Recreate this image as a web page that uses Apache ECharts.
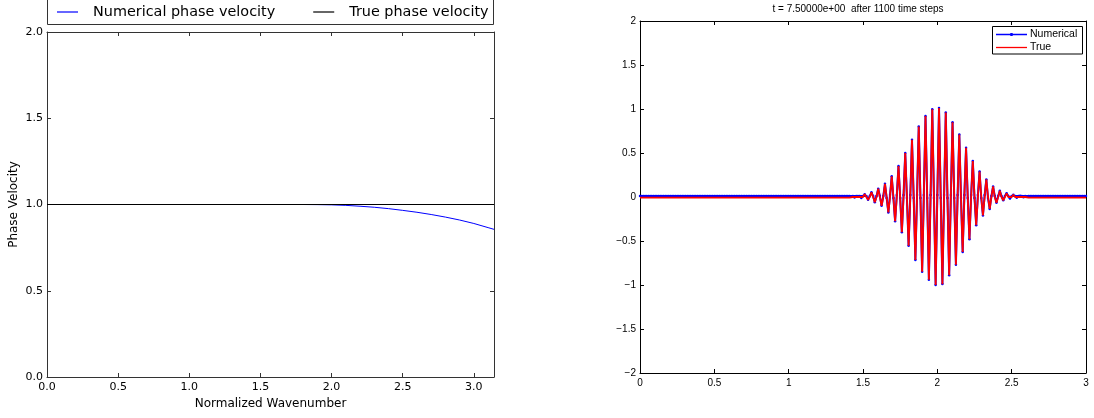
<!DOCTYPE html>
<html><head><meta charset="utf-8">
<script src="https://cdn.jsdelivr.net/npm/echarts@6/dist/echarts.min.js"></script>
<style>html,body{margin:0;padding:0;background:#fff}#c{width:1094px;height:418px}</style>
</head><body><div id="c"></div>
<script>
// ---- Left panel: phase velocity ----
const phaseK    = [0, 0.5, 1.0, 1.5, 1.8, 1.9, 2.0, 2.1, 2.2, 2.3, 2.4, 2.5, 2.6, 2.7, 2.8, 2.9, 3.0, 3.1, Math.PI];
const phaseNum  = [1, 1, 1, 1, 1.0, 0.9993, 0.998, 0.995, 0.99, 0.984, 0.976, 0.966, 0.955, 0.942, 0.927, 0.91, 0.89, 0.866, 0.856];
const trueK     = [0, Math.PI];
const trueVel   = [1, 1];

// ---- Right panel: wave packet on grid x_i = i*3/264 ----
const gridIntervals = 264;
const xMax = 3;
const packetStart = 125;       // grid index of first packet value
const numTail = 0.01;          // baseline of numerical solution outside packet
const trueTail = -0.008;       // baseline of true solution outside packet
const truePacket = [
  0.005, 0, -0.005, 0, 0.012, 0, -0.012, 0,
  0.03, 0, -0.03, 0, 0.053, 0, -0.06, 0,
  0.094, 0, -0.10, 0, 0.15, 0, -0.175, 0,
  0.235, 0, -0.275, 0, 0.352, 0, -0.40, 0,
  0.50, 0, -0.555, 0, 0.65, 0, -0.715, 0,
  0.80, 0, -0.85, 0, 0.92, 0, -0.94, 0,
  0.997, 0, -1.0, 0, 1.01, 0, -0.99, 0,
  0.96, 0, -0.89, 0, 0.85, 0, -0.77, 0,
  0.71, 0, -0.625, 0, 0.56, 0, -0.48, 0,
  0.41, 0, -0.32, 0, 0.29, 0, -0.21, 0,
  0.20, 0, -0.135, 0, 0.12, 0, -0.065, 0,
  0.07, 0, -0.037, 0, 0.042, 0, -0.018, 0,
  0.025, 0, -0.008, 0, 0.015, 0, -0.004, 0,
  0.008
];
const numPacket = [
  0.005, 0.01, -0.005, 0.01, 0.012, 0.01, -0.012, 0.01,
  0.03, 0.01, -0.03, 0.01, 0.053, 0.01, -0.06, 0.01,
  0.094, 0.01, -0.10, 0.01, 0.15, -0.012, -0.175, 0.022,
  0.235, -0.012, -0.275, 0.022, 0.352, -0.012, -0.40, 0.022,
  0.50, -0.012, -0.555, 0.022, 0.65, -0.012, -0.715, 0.022,
  0.80, -0.012, -0.85, 0.022, 0.92, -0.012, -0.94, 0.022,
  0.997, -0.012, -1.0, 0.022, 1.01, -0.012, -0.99, 0.022,
  0.96, -0.012, -0.89, 0.022, 0.85, -0.012, -0.77, 0.022,
  0.71, -0.012, -0.625, 0.022, 0.56, -0.012, -0.48, 0.022,
  0.41, -0.012, -0.32, 0.022, 0.29, -0.012, -0.21, 0.022,
  0.20, -0.012, -0.135, 0.01, 0.12, 0.01, -0.065, 0.01,
  0.07, 0.01, -0.037, 0.01, 0.042, 0.01, -0.018, 0.01,
  0.025, 0.01, -0.008, 0.01, 0.015, 0.01, -0.004, 0.01,
  0.008
];
const titleText = 't = 7.50000e+00  after 1100 time steps';

function buildSeries(packet, tail) {
  const out = [];
  for (let i = 0; i <= gridIntervals; i++) {
    const k = i - packetStart;
    const v = (k >= 0 && k < packet.length) ? packet[k] : tail;
    out.push([i * xMax / gridIntervals, v]);
  }
  return out;
}
const zip = (a, b) => a.map((v, i) => [v, b[i]]);

const L = '#333';
const R = '#000';
const dj = 'DejaVu Sans';
const lib = 'Liberation Sans';

const lineIconL = 'path://M0,0H21V1.2H0Z';
const lineIconR = 'path://M0,0H31V1.3H0Z';
const dotIconR = 'path://M0,1H31V2.3H0Z M14.3,0.2H16.7V3.1H14.3Z';

function frameAxis(grid, pos, min, max, color, extra) {
  return Object.assign({
    gridIndex: grid, type: 'value', position: pos, min: min, max: max, interval: 0.5,
    axisLine: { show: true, onZero: false, lineStyle: { color: color, width: 1 } },
    axisTick: { show: true, inside: true, length: 4, lineStyle: { color: color, width: 1 } },
    axisLabel: { show: false },
    splitLine: { show: false }
  }, extra || {});
}

const chart = echarts.init(document.getElementById('c'), null, { renderer: 'canvas' });
chart.setOption({
  animation: false,
  backgroundColor: '#fff',
  grid: [
    { left: 47, top: 32, width: 447, height: 345 },
    { left: 640, top: 21, width: 446, height: 352 }
  ],
  xAxis: [
    frameAxis(0, 'bottom', 0, Math.PI, L, {
      axisLabel: { show: true, fontFamily: dj, fontSize: 11, color: '#000', margin: 5,
        showMaxLabel: false, formatter: v => v.toFixed(1) },
      name: 'Normalized Wavenumber', nameLocation: 'middle', nameGap: 21,
      nameTextStyle: { fontFamily: dj, fontSize: 12, color: '#000' }
    }),
    frameAxis(0, 'top', 0, Math.PI, L),
    frameAxis(1, 'bottom', 0, xMax, R, {
      axisLabel: { show: true, fontFamily: lib, fontSize: 10, color: '#000', margin: 5,
        formatter: v => String(v) }
    }),
    frameAxis(1, 'top', 0, xMax, R)
  ],
  yAxis: [
    frameAxis(0, 'left', 0, 2, L, {
      axisLabel: { show: true, fontFamily: dj, fontSize: 11, color: '#000', margin: 4,
        formatter: v => v.toFixed(1) },
      name: 'Phase Velocity', nameLocation: 'middle', nameGap: 27, nameRotate: 90,
      nameTextStyle: { fontFamily: dj, fontSize: 12, color: '#000' }
    }),
    frameAxis(0, 'right', 0, 2, L),
    frameAxis(1, 'left', -2, 2, R, {
      axisLabel: { show: true, fontFamily: lib, fontSize: 10, color: '#000', margin: 4,
        formatter: v => (v < 0 ? '\u2212' + String(-v) : String(v)) }
    }),
    frameAxis(1, 'right', -2, 2, R)
  ],
  legend: [
    {
      data: [
        { name: 'Numerical phase velocity', icon: lineIconL },
        { name: 'True phase velocity', icon: lineIconL }
      ],
      left: 57, top: 5, orient: 'horizontal', padding: 0,
      itemWidth: 21, itemHeight: 14, itemGap: 38, symbolKeepAspect: true,
      textStyle: { fontFamily: dj, fontSize: 14.4, color: '#000', padding: [0, 0, 0, 10] }
    },
    {
      data: [
        { name: 'Numerical', icon: dotIconR },
        { name: 'True', icon: lineIconR }
      ],
      left: 996, top: 29, orient: 'vertical', padding: 0,
      itemWidth: 31, itemHeight: 10, itemGap: 2, symbolKeepAspect: true,
      textStyle: { fontFamily: lib, fontSize: 10.5, color: '#000', padding: [0, 0, 0, -2] }
    }
  ],
  graphic: [
    { type: 'rect', shape: { x: 47.5, y: -0.5, width: 446, height: 25 },
      style: { fill: 'none', stroke: L, lineWidth: 1 }, z: 10 },
    { type: 'rect', shape: { x: 992.5, y: 26.5, width: 90, height: 27.5 },
      style: { fill: 'none', stroke: '#000', lineWidth: 1 }, z: 10 },
    { type: 'text', x: 858, y: 4,
      style: { text: titleText, textAlign: 'center', fontFamily: lib, fontSize: 10, fill: '#000' } }
  ],
  series: [
    { name: 'Numerical phase velocity', type: 'line', xAxisIndex: 0, yAxisIndex: 0,
      data: zip(phaseK, phaseNum), symbol: 'none', color: '#0000ff',
      lineStyle: { width: 1, color: '#0000ff' }, z: 2 },
    { name: 'True phase velocity', type: 'line', xAxisIndex: 0, yAxisIndex: 0,
      data: zip(trueK, trueVel), symbol: 'none', color: '#000',
      lineStyle: { width: 1, color: '#000' }, z: 3 },
    { name: 'Numerical', type: 'line', xAxisIndex: 2, yAxisIndex: 2,
      data: buildSeries(numPacket, numTail), symbol: 'circle', symbolSize: 2.5,
      showSymbol: true, showAllSymbol: true, color: '#0000ff',
      itemStyle: { color: '#0000ff' }, lineStyle: { width: 2, color: '#0000ff' }, z: 2 },
    { name: 'True', type: 'line', xAxisIndex: 2, yAxisIndex: 2,
      data: buildSeries(truePacket, trueTail), symbol: 'none', color: '#ff0000',
      lineStyle: { width: 1.8, color: '#ff0000' }, z: 3 }
  ]
});
</script></body></html>
